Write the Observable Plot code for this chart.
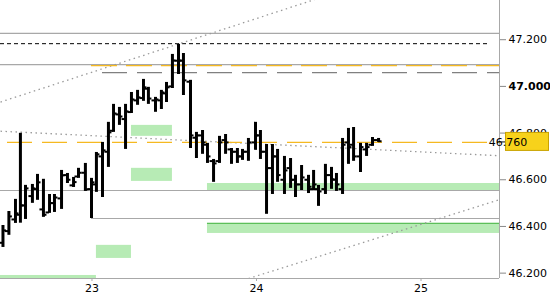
<!DOCTYPE html>
<html><head><meta charset="utf-8">
<script src="https://cdn.jsdelivr.net/npm/d3@7"></script>
<script src="https://cdn.jsdelivr.net/npm/@observablehq/plot@0.6"></script>
<style>body{margin:0;background:#fff;} #chart{width:550px;height:300px;}</style>
</head><body><div id="chart"></div>
<script>
// OHLC bars (x in days)
const times = [22.459,22.495,22.535,22.565,22.596,22.638,22.669,22.705,22.742,22.772,22.815,22.851,22.888,22.918,22.960,22.997,23.027,23.064,23.100,23.131,23.167,23.204,23.240,23.277,23.313,23.343,23.386,23.422,23.453,23.489,23.526,23.556,23.599,23.635,23.672,23.702,23.739,23.775,23.812,23.848,23.884,23.915,23.951,23.994,24.024,24.061,24.097,24.128,24.170,24.207,24.237,24.274,24.316,24.347,24.377,24.419,24.456,24.486,24.523,24.559,24.590,24.632,24.669,24.705,24.742];
const opens = [46.330,46.380,46.430,46.450,46.490,46.530,46.560,46.473,46.460,46.500,46.520,46.620,46.576,46.614,46.630,46.560,46.580,46.700,46.720,46.810,46.880,46.860,46.890,46.940,46.950,46.990,46.940,46.940,46.970,47.000,47.110,47.110,47.020,46.780,46.790,46.750,46.680,46.680,46.770,46.730,46.720,46.700,46.720,46.760,46.790,46.720,46.650,46.700,46.600,46.650,46.600,46.580,46.600,46.560,46.560,46.560,46.620,46.600,46.560,46.760,46.750,46.700,46.730,46.750,46.770];
const highs = [46.404,46.464,46.516,46.799,46.576,46.580,46.623,46.602,46.537,46.537,46.640,46.627,46.610,46.649,46.670,46.606,46.717,46.760,46.846,46.923,46.910,46.923,46.974,46.983,47.030,46.996,46.953,46.983,47.017,47.137,47.180,47.141,47.026,46.803,46.811,46.756,46.687,46.786,46.794,46.734,46.734,46.730,46.777,46.846,46.811,46.751,46.751,46.730,46.700,46.691,46.619,46.661,46.619,46.640,46.576,46.666,46.653,46.627,46.777,46.820,46.824,46.756,46.756,46.781,46.777];
const lows = [46.310,46.362,46.413,46.414,46.430,46.499,46.512,46.439,46.456,46.460,46.473,46.584,46.567,46.606,46.550,46.434,46.546,46.524,46.653,46.803,46.833,46.730,46.884,46.919,46.936,46.923,46.889,46.901,46.931,46.991,47.051,46.961,46.734,46.691,46.709,46.670,46.589,46.670,46.709,46.666,46.670,46.683,46.679,46.726,46.687,46.452,46.537,46.589,46.537,46.563,46.524,46.554,46.541,46.554,46.486,46.537,46.559,46.550,46.537,46.666,46.679,46.631,46.700,46.743,46.760];
const closes = [46.383,46.443,46.456,46.490,46.563,46.563,46.589,46.450,46.500,46.524,46.619,46.600,46.590,46.630,46.559,46.589,46.709,46.726,46.803,46.884,46.871,46.893,46.944,46.953,46.996,46.948,46.944,46.974,46.996,47.111,47.111,47.026,46.790,46.790,46.760,46.700,46.670,46.760,46.760,46.720,46.700,46.720,46.760,46.790,46.720,46.650,46.700,46.620,46.640,46.600,46.580,46.610,46.570,46.580,46.550,46.620,46.602,46.580,46.750,46.740,46.700,46.740,46.740,46.770,46.765];

// axis ticks
const xTicks = [23, 24, 25];
const yTicks = [46.2, 46.4, 46.6, 46.8, 47.0, 47.2];
const lastPrice = 46.760;

// solid gray levels (full width) and partial
const grayLevels = [47.227, 47.093, 46.554];
const grayPartialLevel = 46.434, grayPartialStart = 22.997;
// dashed levels
const blackDashLevel = 47.183, blackDashEnd = 25.410;
const orangeLevelA = 47.089, orangeStartA = 22.997;
const grayDashLevel = 47.059, grayDashStart = 23.064;

// green zones
const zoneX1 = [23.240, 23.240, 23.027, 22.40, 23.702, 23.702];
const zoneX2 = [23.489, 23.489, 23.240, 23.027, 25.50, 25.50];
const zoneY1 = [46.786, 46.593, 46.263, 46.15, 46.554, 46.370];
const zoneY2 = [46.833, 46.649, 46.319, 46.190, 46.584, 46.413];
const zoneEdgeLevel = 46.413, zoneEdgeStart = 23.702;

// dotted trend lines
const trendX1 = [22.444, 22.444, 23.951];
const trendY1 = [46.933, 46.808, 46.177];
const trendX2 = [24.401, 25.477, 25.477];
const trendY2 = [47.383, 46.703, 46.515];

const xDomain = [22.444, 25.477];
const yDomain = [46.177, 47.368];
const pxT = (xDomain[1] - xDomain[0]) / 499;

const bars = times.map((t, i) => ({t, open: opens[i], high: highs[i], low: lows[i], close: closes[i]}));
const zones = zoneX1.map((x1, i) => ({x1, x2: zoneX2[i], y1: zoneY1[i], y2: zoneY2[i]}));
const trends = trendX1.map((x1, i) => ({x1, y1: trendY1[i], x2: trendX2[i], y2: trendY2[i]}));

const plot = Plot.plot({
  width: 550, height: 300,
  marginLeft: 0, marginRight: 51, marginTop: 0, marginBottom: 22,
  style: {fontFamily: "DejaVu Sans", fontSize: "11px", background: "#fff", color: "#000"},
  x: {domain: xDomain, range: [0, 499]},
  y: {domain: yDomain},
  marks: [
    Plot.rect(zones, {x1: "x1", x2: "x2", y1: "y1", y2: "y2", fill: "#b7ebb5", clip: true}),
    Plot.ruleY([zoneEdgeLevel], {x1: zoneEdgeStart, x2: xDomain[1], stroke: "#5cbf5a", strokeWidth: 1.2}),
    Plot.ruleY(grayLevels, {stroke: "#a8a8a8", strokeWidth: 1.2}),
    Plot.ruleY([grayPartialLevel], {x1: grayPartialStart, x2: xDomain[1], stroke: "#a8a8a8", strokeWidth: 1.2}),
    Plot.ruleY([blackDashLevel], {x1: xDomain[0], x2: blackDashEnd, stroke: "#000", strokeWidth: 1, strokeDasharray: "4,3"}),
    Plot.ruleY([grayDashLevel], {x1: grayDashStart, x2: xDomain[1], stroke: "#808080", strokeWidth: 1.2, strokeDasharray: "25,10"}),
    Plot.link(trends, {x1: "x1", y1: "y1", x2: "x2", y2: "y2", stroke: "#9a9a9a", strokeWidth: 1.3, strokeDasharray: "1.5,3.5", clip: true}),
    Plot.ruleY([orangeLevelA], {x1: orangeStartA, x2: xDomain[1], stroke: "#f5b921", strokeWidth: 1.2, strokeDasharray: "26,9"}),
    Plot.ruleY([lastPrice], {x1: xDomain[0], x2: xDomain[1], stroke: "#f5b921", strokeWidth: 1.3, strokeDasharray: "25,10", strokeDashoffset: 28}),
    Plot.ruleX(bars, {x: "t", y1: "low", y2: "high", stroke: "#000", strokeWidth: 3}),
    Plot.ruleY(bars, {y: "open", x1: d => d.t - 3.5 * pxT, x2: "t", stroke: "#000", strokeWidth: 2}),
    Plot.ruleY(bars, {y: "close", x1: "t", x2: d => d.t + 3.5 * pxT, stroke: "#000", strokeWidth: 2}),
    Plot.ruleY([yDomain[0]], {stroke: "#a8a8a8", strokeWidth: 1}),
    Plot.ruleX([xDomain[1]], {stroke: "#a8a8a8", strokeWidth: 1}),
    Plot.axisX({ticks: xTicks, tickFormat: d => String(d), tickSize: 3, tickPadding: 3, stroke: "#a8a8a8", label: null, fill: "#000"}),
    Plot.axisY({anchor: "right", ticks: yTicks, tickFormat: d => d.toFixed(3), tickSize: 6, tickPadding: 3, stroke: "#888", label: null, fill: "#000"})
  ]
});
document.getElementById("chart").appendChild(plot);

// bold 47.000 label
d3.select(plot).selectAll("text").filter(function(){ return this.textContent === "47.000"; }).attr("font-weight", "bold");

// last price box on the right axis
const ys = plot.scale("y");
const yp = ys.apply(lastPrice);
const svg = d3.select(plot);
const g = svg.append("g");
g.append("line").attr("x1", 499).attr("x2", 506).attr("y1", yp).attr("y2", yp).attr("stroke", "#333").attr("stroke-width", 1.2);
g.append("rect").attr("x", 505.5).attr("y", yp - 9.5).attr("width", 43).attr("height", 18)
  .attr("fill", "#f7d21b").attr("stroke", "#c9a300").attr("stroke-width", 1);
g.append("text").attr("x", 508).attr("y", yp).attr("dy", "0.35em").attr("font-family", "DejaVu Sans").attr("font-size", 11)
  .attr("fill", "#000").text(lastPrice.toFixed(3));
</script>
</body></html>
